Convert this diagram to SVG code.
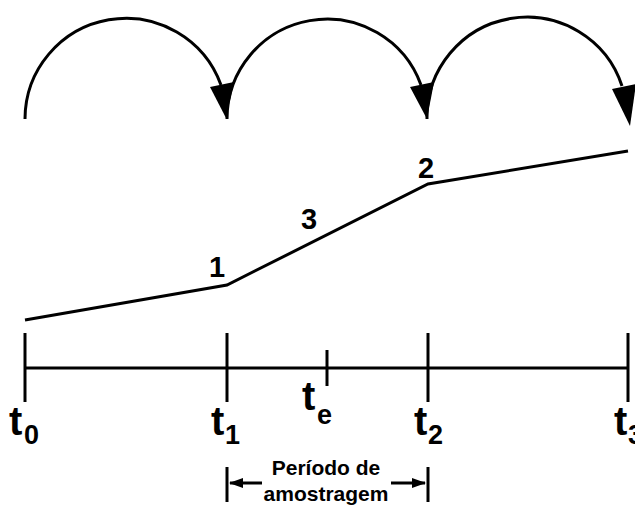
<svg xmlns="http://www.w3.org/2000/svg" width="635" height="511" viewBox="0 0 635 511">
<style>
.ln{fill:none;stroke:#000;stroke-width:3;stroke-linecap:butt;stroke-linejoin:miter}
.tk{fill:none;stroke:#000;stroke-width:3}
.hd{fill:#000;stroke:none}
.t{font-family:"Liberation Sans",Arial,sans-serif;font-weight:bold;font-size:40px;fill:#000}
.s{font-family:"Liberation Sans",Arial,sans-serif;font-weight:bold;font-size:27px;fill:#000}
.n{font-family:"Liberation Sans",Arial,sans-serif;font-weight:bold;font-size:29px;fill:#000}
.p{font-family:"Liberation Sans",Arial,sans-serif;font-weight:bold;font-size:21px;fill:#000}
</style>
<defs>
<marker id="ah" markerWidth="14" markerHeight="12" refX="13" refY="6" orient="auto" markerUnits="userSpaceOnUse">
<path d="M0,1 L14,6 L0,11 Z" fill="#000"/>
</marker>
</defs>
<g id="connectors">
<path class="ln" d="M25,119 A101,101 0 0 1 221,85"/>
<polygon class="hd" points="210,87 234,82 226,118"/>
<path class="ln" d="M227,119 A100,100 0 0 1 421,85"/>
<polygon class="hd" points="410,87 434,82 427,119"/>
<path class="ln" d="M427,119 A100,100 0 0 1 622,86"/>
<polygon class="hd" points="612,89 636,84 630,126"/>
</g>
<g id="curve">
<polyline class="ln" points="25,320 227,285 428,184 628,151"/>
<text class="n" x="209" y="277">1</text>
<text class="n" x="301" y="229">3</text>
<text class="n" x="418" y="178">2</text>
</g>
<g id="timeline">
<line class="tk" x1="25" y1="368" x2="628" y2="368"/>
<line class="tk" x1="25" y1="333" x2="25" y2="402"/>
<line class="tk" x1="227" y1="333" x2="227" y2="402"/>
<line class="tk" x1="428" y1="333" x2="428" y2="402"/>
<line class="tk" x1="628" y1="333" x2="628" y2="402"/>
<line class="tk" x1="327" y1="350" x2="327" y2="386"/>
</g>
<g id="label-t0"><text class="t" x="9" y="435">t</text><text class="s" x="24" y="444">0</text></g>
<g id="label-t1"><text class="t" x="211" y="435">t</text><text class="s" x="225" y="444">1</text></g>
<g id="label-te"><text class="t" x="302" y="410">t</text><text class="s" x="317" y="424">e</text></g>
<g id="label-t2"><text class="t" x="414" y="435">t</text><text class="s" x="428" y="444">2</text></g>
<g id="label-t3"><text class="t" x="614" y="435">t</text><text class="s" x="628" y="444">3</text></g>
<g id="periodo">
<line class="tk" x1="227" y1="467" x2="227" y2="502"/>
<line class="tk" x1="428" y1="467" x2="428" y2="502"/>
<line class="tk" x1="262" y1="483" x2="230" y2="483" marker-end="url(#ah)"/>
<line class="tk" x1="391" y1="483" x2="425" y2="483" marker-end="url(#ah)"/>
<text class="p" x="326" y="475" text-anchor="middle">Período de</text>
<text class="p" x="326" y="501" text-anchor="middle">amostragem</text>
</g>
</svg>
